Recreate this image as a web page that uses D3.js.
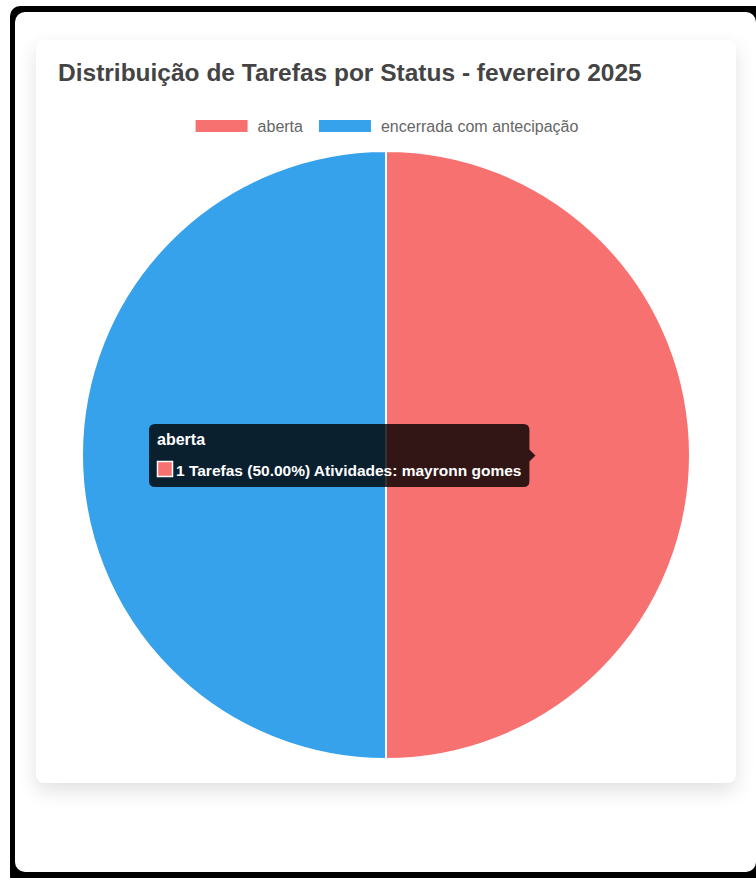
<!DOCTYPE html>
<html>
<head>
<meta charset="utf-8">
<script src="https://cdn.jsdelivr.net/npm/d3@7"></script>
<style>
  body { margin: 0; background: #fff; width: 756px; height: 878px; overflow: hidden; position: relative; font-family: "Liberation Sans", Arial, sans-serif; }
  .frame { position: absolute; left: 10px; top: 6px; width: 760px; height: 880px; background: #000; border-radius: 10px; }
  .panel { position: absolute; left: 15px; top: 12px; width: 741px; height: 860px; background: #fff; border-radius: 10px; }
  .card { position: absolute; left: 36px; top: 40px; width: 700px; height: 743px; background: #fff; border-radius: 8px;
          box-shadow: 0 8px 20px rgba(0,0,0,0.12); }
  svg { position: absolute; left: 0; top: 0; }
</style>
</head>
<body>
<div class="frame"></div>
<div class="panel"></div>
<div class="card"></div>
<script>
var chartTitle = "Distribuição de Tarefas por Status - fevereiro 2025";
var statusLabels = ["aberta", "encerrada com antecipação"];
var taskCounts = [1, 1];
var statusColors = ["#f87171", "#36a2eb"];
var activities = ["mayronn gomes", ""];
var hoverIndex = 0;

var width = 756, height = 878;
var cx = 386, cy = 455, radius = 304;

var svg = d3.select("body").append("svg")
    .attr("width", width)
    .attr("height", height);

// title
svg.append("text")
    .attr("x", 58)
    .attr("y", 81)
    .attr("font-size", 24.5)
    .attr("font-weight", "bold")
    .attr("fill", "#444")
    .text(chartTitle);

// legend
var legend = svg.append("g");
var items = legend.selectAll("g")
    .data(statusLabels)
    .join("g");
items.append("rect")
    .attr("width", 52)
    .attr("height", 12)
    .attr("y", 120)
    .attr("fill", (d, i) => statusColors[i]);
items.append("text")
    .attr("x", 62)
    .attr("y", 131.5)
    .attr("font-size", 16)
    .attr("fill", "#666")
    .text(d => d);
var legendX = 0, legendWidths = [];
items.each(function(d, i) {
    var w = 62 + d3.select(this).select("text").node().getComputedTextLength();
    legendWidths.push(w);
});
var totalW = d3.sum(legendWidths) + 16 * (legendWidths.length - 1);
legendX = 387 - totalW / 2;
items.attr("transform", (d, i) => {
    var x = legendX;
    legendX += legendWidths[i] + 16;
    return "translate(" + x + ",0)";
});

// pie
var total = d3.sum(taskCounts);
var pie = d3.pie().sort(null).value(d => d);
var arc = d3.arc().innerRadius(0).outerRadius(radius);
var pieG = svg.append("g").attr("transform", "translate(" + cx + "," + cy + ")");
pieG.selectAll("path")
    .data(pie(taskCounts))
    .join("path")
    .attr("d", arc)
    .attr("fill", (d, i) => statusColors[i])
    .attr("stroke", "#fff")
    .attr("stroke-width", 2);

// tooltip
var tip = svg.append("g");
var tipX = 149, tipY = 424, tipH = 63;
var tipRect = tip.append("path").attr("fill", "rgba(0,0,0,0.8)");
tip.append("text")
    .attr("x", tipX + 8)
    .attr("y", tipY + 21)
    .attr("font-size", 16)
    .attr("font-weight", "bold")
    .attr("fill", "#fff")
    .text(statusLabels[hoverIndex]);
tip.append("rect")
    .attr("x", tipX + 8.5)
    .attr("y", tipY + 37.5)
    .attr("width", 15)
    .attr("height", 15)
    .attr("fill", statusColors[hoverIndex])
    .attr("stroke", "#fff")
    .attr("stroke-width", 1.5);
var bodyText = tip.append("text")
    .attr("x", tipX + 27)
    .attr("y", tipY + 51.5)
    .attr("font-size", 15.5)
    .attr("font-weight", "bold")
    .attr("fill", "#fff")
    .text(taskCounts[hoverIndex] + " Tarefas (" + (taskCounts[hoverIndex] / total * 100).toFixed(2) + "%) Atividades: " + activities[hoverIndex]);
var tipW = 27 + bodyText.node().getComputedTextLength() + 8;
var r = 6, x0 = tipX, y0 = tipY, x1 = tipX + tipW, y1 = tipY + tipH, my = tipY + tipH / 2;
var p = d3.path();
p.moveTo(x0 + r, y0);
p.lineTo(x1 - r, y0);
p.quadraticCurveTo(x1, y0, x1, y0 + r);
p.lineTo(x1, my - 6);
p.lineTo(x1 + 6, my);
p.lineTo(x1, my + 6);
p.lineTo(x1, y1 - r);
p.quadraticCurveTo(x1, y1, x1 - r, y1);
p.lineTo(x0 + r, y1);
p.quadraticCurveTo(x0, y1, x0, y1 - r);
p.lineTo(x0, y0 + r);
p.quadraticCurveTo(x0, y0, x0 + r, y0);
p.closePath();
tipRect.attr("d", p.toString());
</script>
</body>
</html>
